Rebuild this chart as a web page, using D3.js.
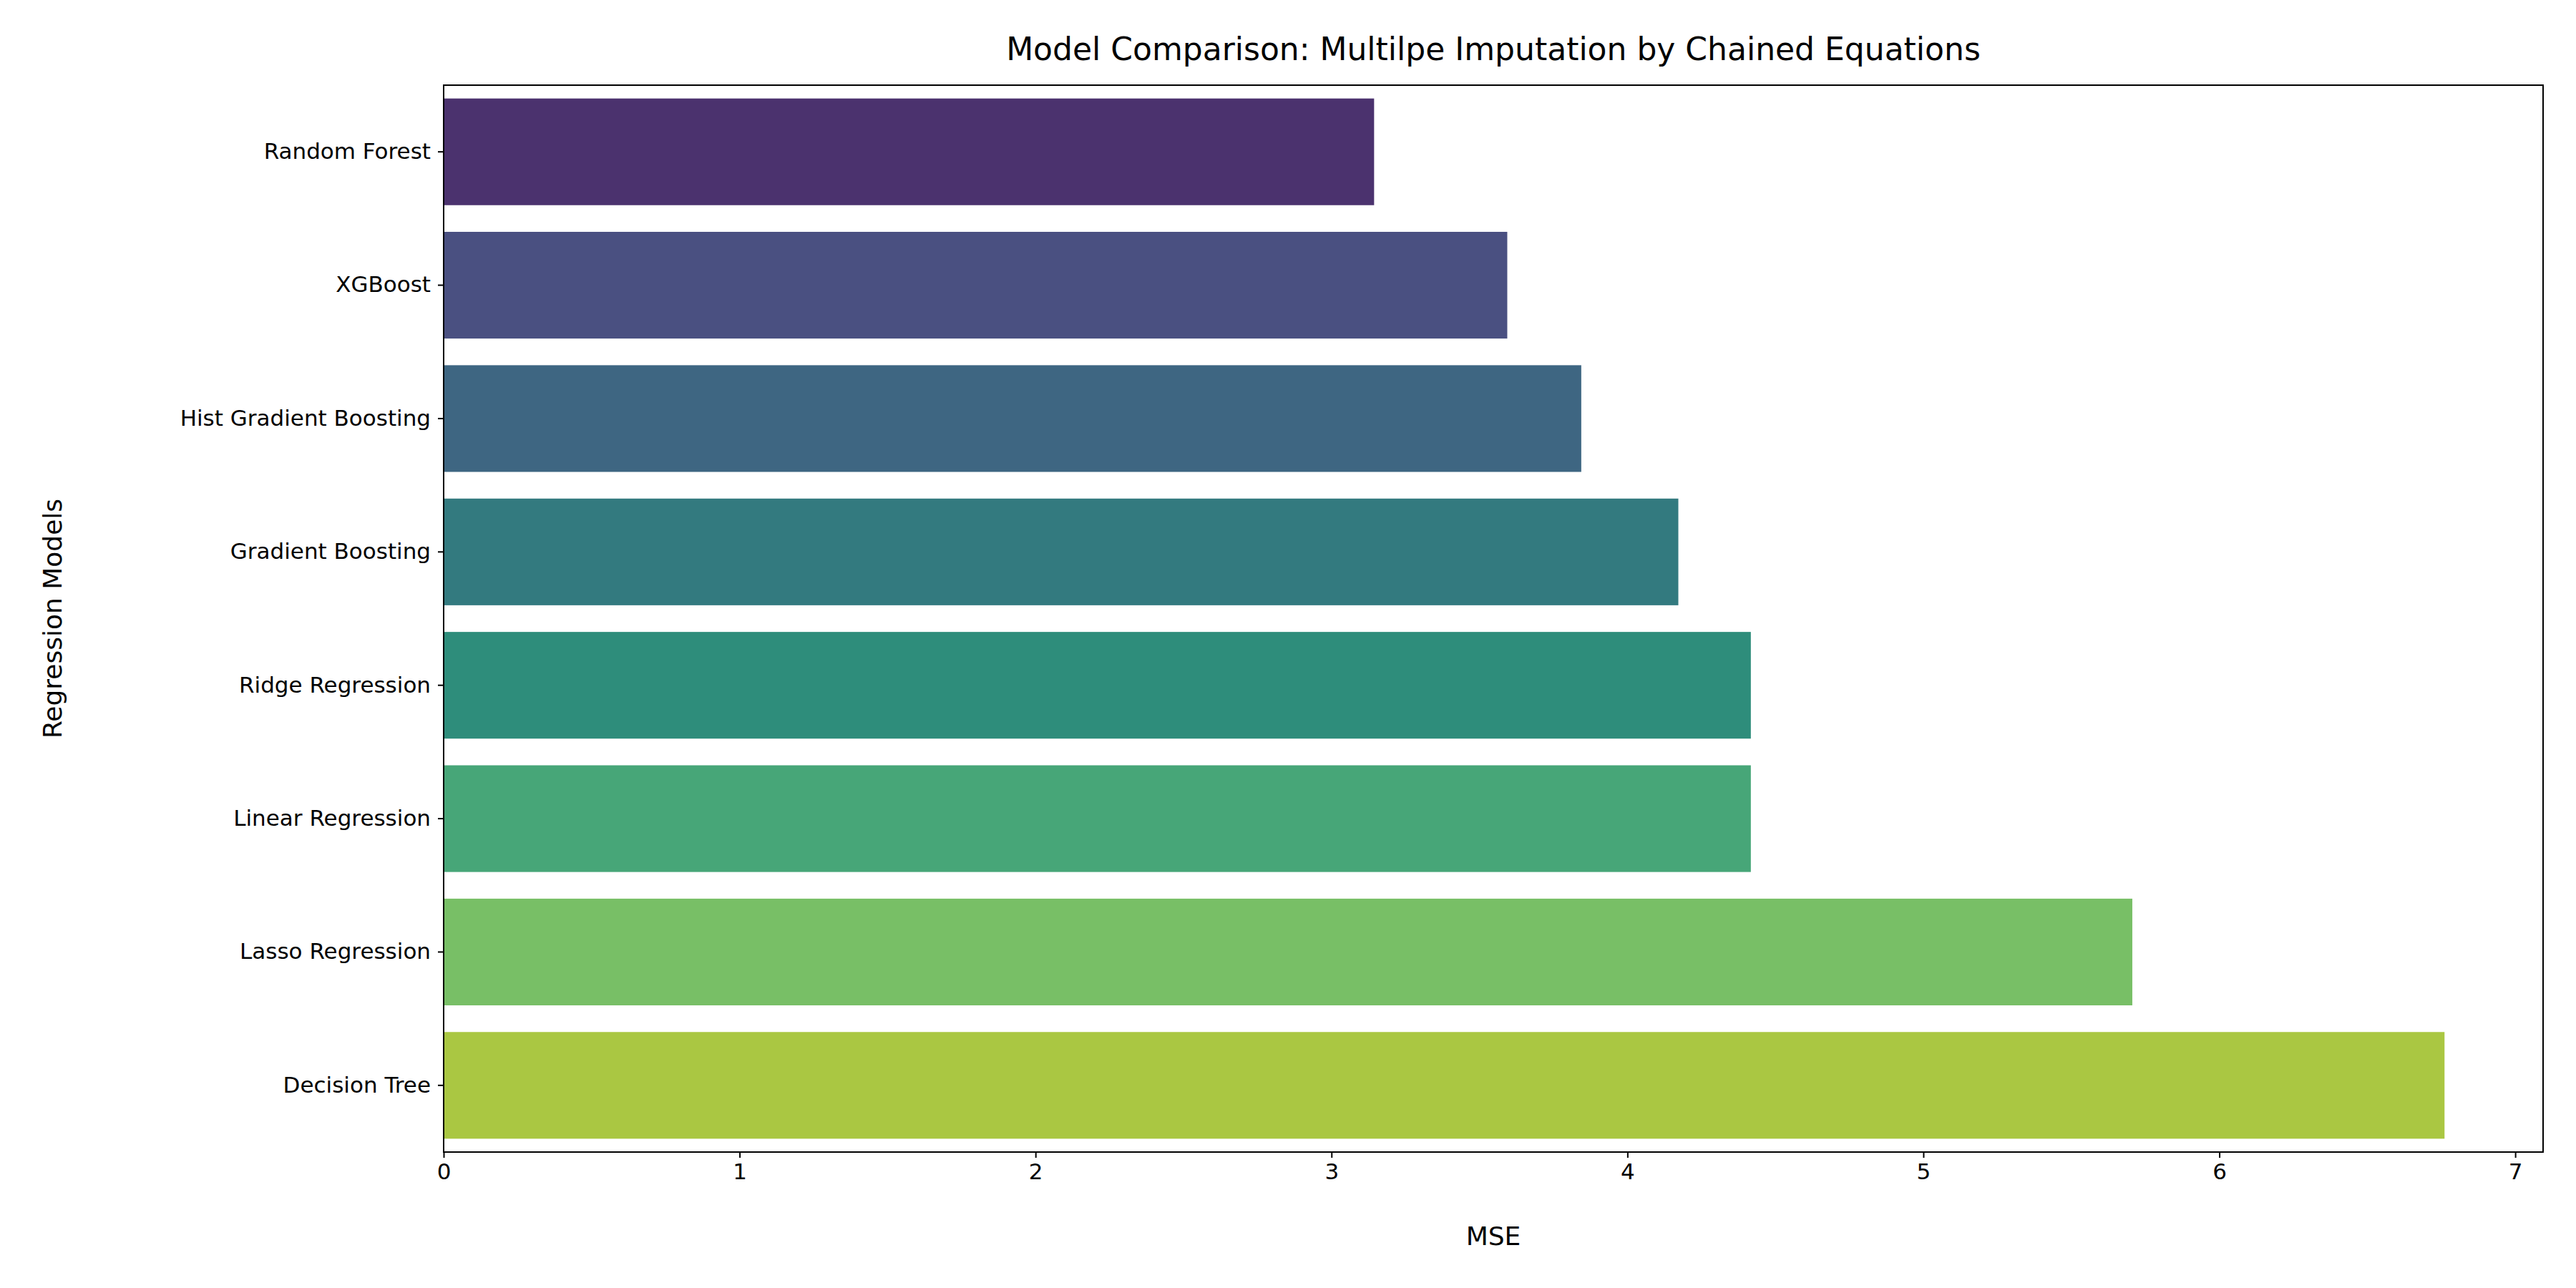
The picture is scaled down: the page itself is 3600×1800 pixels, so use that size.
<!DOCTYPE html>
<html><head><meta charset="utf-8">
<script src="https://cdn.jsdelivr.net/npm/d3@7"></script>
<style>body{margin:0;background:#fff}text{font-family:"DejaVu Sans",sans-serif}</style>
</head><body><div id="chart"></div>
<script>
var models = ["Random Forest", "XGBoost", "Hist Gradient Boosting", "Gradient Boosting",
  "Ridge Regression", "Linear Regression", "Lasso Regression", "Decision Tree"]
var mse = [3.144, 3.594, 3.844, 4.172, 4.417, 4.417, 5.706, 6.761]
var colors = ["#4b326e", "#4a5081", "#3e6682", "#337a7f", "#2e8d7b", "#47a678", "#78bf66", "#aac742"]
var xTicks = [0, 1, 2, 3, 4, 5, 6, 7]

var W = 3600, H = 1800
var margin = {top: 119, right: 46, bottom: 190, left: 620}
var width = W - margin.left - margin.right
var height = H - margin.top - margin.bottom

var svg = d3.select("#chart").append("svg").attr("width", W).attr("height", H)
var g = svg.append("g").attr("transform", "translate(" + margin.left + "," + margin.top + ")")

var x = d3.scaleLinear().domain([0, 7.094]).range([0, width])
var y = d3.scaleBand().domain(models).range([0, height]).paddingInner(0.2).paddingOuter(0.1)

g.selectAll("rect.bar").data(models).enter().append("rect")
  .attr("class", "bar")
  .attr("x", 0)
  .attr("y", d => y(d))
  .attr("width", (d, i) => x(mse[i]))
  .attr("height", y.bandwidth())
  .attr("fill", (d, i) => colors[i])

var xAxis = g.append("g").attr("transform", "translate(0," + height + ")")
  .call(d3.axisBottom(x).tickValues(xTicks).tickFormat(d3.format("d")).tickSize(8).tickPadding(8))
var yAxis = g.append("g")
  .call(d3.axisLeft(y).tickSize(8).tickPadding(10))
;[xAxis, yAxis].forEach(a => {
  a.selectAll("text").attr("font-size", 31).attr("fill", "#000").attr("font-family", "DejaVu Sans")
  a.selectAll("line").attr("stroke", "#000").attr("stroke-width", 2)
  a.select(".domain").remove()
})

g.append("rect").attr("width", width).attr("height", height)
  .attr("fill", "none").attr("stroke", "#000").attr("stroke-width", 2)

svg.append("text").attr("x", margin.left + width / 2).attr("y", 84)
  .attr("text-anchor", "middle").attr("font-size", 44).text("Model Comparison: Multilpe Imputation by Chained Equations")
svg.append("text").attr("x", margin.left + width / 2).attr("y", 1740)
  .attr("text-anchor", "middle").attr("font-size", 36).text("MSE")
svg.append("text").attr("transform", "translate(86," + (margin.top + height / 2) + ") rotate(-90)")
  .attr("text-anchor", "middle").attr("font-size", 36).text("Regression Models")
</script></body></html>
